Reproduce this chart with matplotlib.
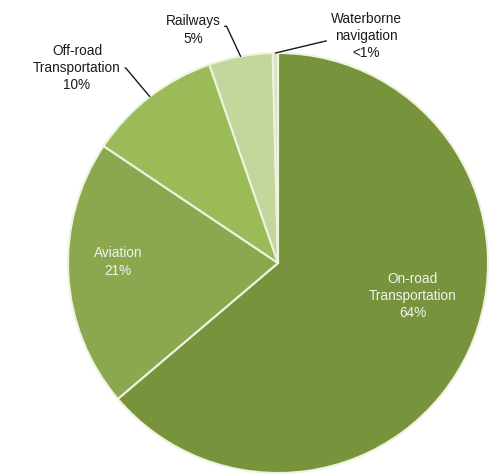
import numpy as np
import matplotlib
matplotlib.use('Agg')
import matplotlib.pyplot as plt

plt.rcParams['font.family'] = ['Liberation Sans', 'DejaVu Sans']

# Data (share of transportation emissions, %)
categories = ['On-road\nTransportation', 'Aviation', 'Off-road\nTransportation',
              'Railways', 'Waterborne\nnavigation']
shares = [63.8, 20.6, 10.3, 4.9, 0.4]
pct_labels = ['64%', '21%', '10%', '5%', '<1%']
colors = ['#77933C', '#8BA84E', '#9BBB59', '#C3D69B', '#D7E4BD']

W, H = 491, 475
fig = plt.figure(figsize=(W / 100, H / 100), dpi=100)
# pie centre ~ (278, 263) px, radius ~210 px
cx, cy, r = 278, 263, 210
ax = fig.add_axes([(cx - r) / W, (H - cy - r) / H, 2 * r / W, 2 * r / H])

wedges, _ = ax.pie(shares, colors=colors, startangle=90, counterclock=False,
                   radius=1, wedgeprops=dict(edgecolor='#EEF3E0', linewidth=1.5))
ax.set_xlim(-1, 1)
ax.set_ylim(-1, 1)
ax.axis('off')

FS = 9.8
LS = 1.3


def px(x, y):
    # pixel position -> data units
    return (x - cx) / r, (cy - y) / r


def mid_angle(w):
    return np.deg2rad((w.theta1 + w.theta2) / 2)


# labels inside the two large wedges
for i, pos in [(0, (413, 296)), (1, (118, 262))]:
    ax.text(*px(*pos), categories[i] + '\n' + pct_labels[i], ha='center', va='center',
            color='#F2F2F2', fontsize=FS, linespacing=LS)

# outside labels with leader lines: (wedge, text centre px, relpos, connector)
outside = [(2, (77, 68), (1, 0.5), 'angle,angleA=0,angleB=-50,rad=0'),
           (3, (193, 30), (1, 0.62), 'angle,angleA=0,angleB=-65,rad=0'),
           (4, (366, 36), (0, 0.42), 'arc3,rad=0')]
for i, pos, rel, conn in outside:
    a = mid_angle(wedges[i])
    xy = (np.cos(a), np.sin(a))
    ax.annotate(categories[i] + '\n' + pct_labels[i], xy=xy, xytext=px(*pos),
                ha='center', va='center', fontsize=FS, color='#1A1A1A',
                linespacing=LS, annotation_clip=False,
                arrowprops=dict(arrowstyle='-', color='#1A1A1A', lw=1.0,
                                relpos=rel, shrinkA=1, shrinkB=0,
                                connectionstyle=conn))

fig.savefig('out.png', dpi=100)
